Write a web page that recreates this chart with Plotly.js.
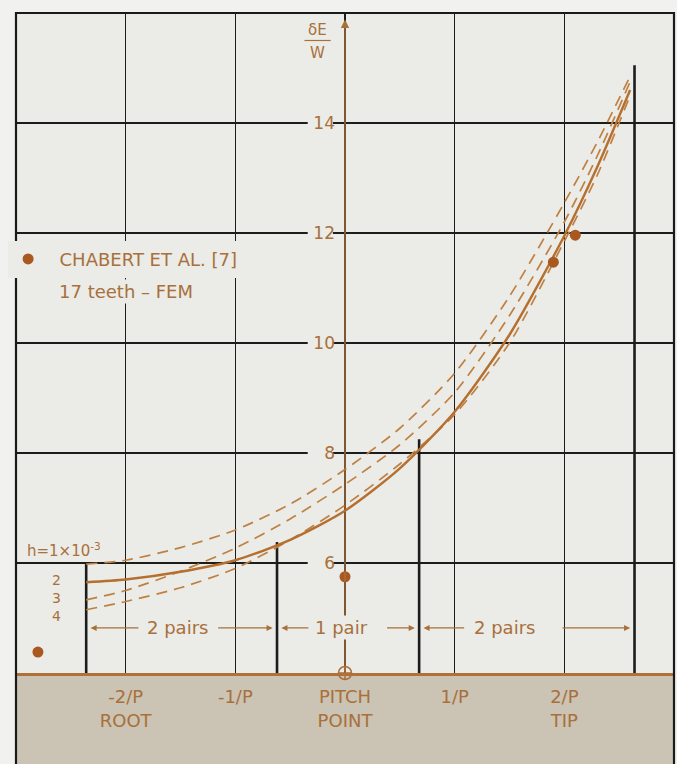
<!DOCTYPE html>
<html><head><meta charset="utf-8">
<script src="https://cdn.plot.ly/plotly-3.0.1.min.js"></script>
<style>html,body{margin:0;padding:0;background:#f1f1ef}</style>
</head><body><div id="chart" style="width:677px;height:764px"></div>
<script>
// ---- data ----
const curveX = [-2.36, -2, -1.5, -1, -0.5, 0, 0.5, 1, 1.5, 2, 2.3, 2.6];
const curveH1 = [5.98, 6.05, 6.28, 6.6, 7.07, 7.7, 8.45, 9.45, 10.85, 12.55, 13.65, 14.85];
const curveH2 = [5.65, 5.7, 5.84, 6.05, 6.42, 6.95, 7.72, 8.75, 10.15, 11.95, 13.2, 14.6];
const curveH3 = [5.33, 5.5, 5.85, 6.27, 6.8, 7.43, 8.15, 9.1, 10.5, 12.2, 13.4, 14.75];
const curveH4 = [5.15, 5.3, 5.55, 5.9, 6.42, 7.05, 7.8, 8.7, 10.0, 11.85, 13.05, 14.5];
const chabertX = [-2.8, 0, 1.9, 2.1];
const chabertY = [4.38, 5.75, 11.47, 11.96];
const contactX = [-2.36, -0.62, 0.676, 2.64];
const contactTop = [6.0, 6.38, 8.25, 15.05];
const pitchPointX = [0];
const pitchPointY = [4];
const xTickVals = [-2, -1, 0, 1, 2];
const xTickText = ['-2/P<br>ROOT', '-1/P', 'PITCH<br>POINT', '1/P', '2/P<br>TIP'];
const yTickVals = [6, 8, 10, 12, 14];
const curveNames = ['h=1×10<sup>-3</sup>', '2', '3', '4'];
const pairLabels = ['2 pairs', '1 pair', '2 pairs'];

// ---- styles ----
const BROWN = '#a8703a';
const CURVE = '#bf8142';
const DOT = '#a9591f';
const PLOTBG = '#ebebe8';
const FONT = 'DejaVu Sans, sans-serif';

// contact lines (built from arrays)
const cx = [], cy = [];
contactX.forEach((x, i) => { cx.push(x, x, null); cy.push(4, contactTop[i], null); });

const dashStyle = {color: CURVE, width: 1.7, dash: '11px,7px', shape: 'spline', smoothing: 0.7};
const traces = [
  {x: cx, y: cy, mode: 'lines', line: {color: '#1c1c1c', width: 2.6}, showlegend: false, hoverinfo: 'skip'},
  {x: curveX, y: curveH1, mode: 'lines', line: dashStyle, showlegend: false},
  {x: curveX, y: curveH3, mode: 'lines', line: dashStyle, showlegend: false},
  {x: curveX, y: curveH4, mode: 'lines', line: dashStyle, showlegend: false},
  {x: curveX, y: curveH2, mode: 'lines', line: {color: '#b56f2e', width: 2.4, shape: 'spline', smoothing: 0.7}, showlegend: false},
  {x: pitchPointX, y: pitchPointY, mode: 'markers', marker: {symbol: 'circle-cross-open', size: 13, color: BROWN, line: {width: 1.5}}, showlegend: false, cliponaxis: false},
  {x: chabertX, y: chabertY, mode: 'markers', name: '\u00a0\u00a0CHABERT ET AL. [7]', marker: {color: DOT, size: 11}, showlegend: true}
];

const annotations = [];
// y axis arrow
annotations.push({x: 0, y: 15.88, ax: 0, ay: 4, xref: 'x', yref: 'y', axref: 'x', ayref: 'y', text: '', showarrow: true,
  arrowhead: 2, arrowsize: 1.2, arrowwidth: 1.4, arrowcolor: BROWN, standoff: 0});
// y-axis name as fraction
annotations.push({x: -0.25, y: 15.7, xref: 'x', yref: 'y', text: 'δE', showarrow: false, font: {family: FONT, size: 15, color: BROWN}});
annotations.push({x: -0.25, y: 15.28, xref: 'x', yref: 'y', text: 'W', showarrow: false, font: {family: FONT, size: 15, color: BROWN}});
// curve labels
annotations.push({x: -2.92, y: 6.24, xref: 'x', yref: 'y', xanchor: 'left', text: curveNames[0], showarrow: false, font: {family: FONT, size: 15, color: BROWN}});
annotations.push({x: -2.63, y: 5.36, xref: 'x', yref: 'y', text: curveNames.slice(1).join('<br>'), showarrow: false,
  font: {family: FONT, size: 14, color: BROWN}});
// legend second line
annotations.push({x: -2.63, y: 10.93, xref: 'x', yref: 'y', xanchor: 'left', text: '17 teeth – FEM', showarrow: false, bgcolor: PLOTBG,
  font: {family: FONT, size: 18, color: BROWN}});
// pair dimensions
const dimY = 4.82;
const pairLabelX = [-1.53, -0.03, 1.45];
const pairArrows = [[-1.87, contactX[0] + 0.04], [-1.17, contactX[1] - 0.04],
                    [-0.32, contactX[1] + 0.04], [0.37, contactX[2] - 0.04],
                    [1.10, contactX[2] + 0.04], [1.97, contactX[3] - 0.04]];
pairArrows.forEach(a => annotations.push({x: a[1], y: dimY, ax: a[0], ay: dimY, xref: 'x', yref: 'y', axref: 'x', ayref: 'y',
  text: '', showarrow: true, arrowhead: 2, arrowsize: 1.1, arrowwidth: 1.1, arrowcolor: BROWN, standoff: 0}));
pairLabels.forEach((t, i) => annotations.push({x: pairLabelX[i], y: dimY, xref: 'x', yref: 'y', text: t, showarrow: false,
  bgcolor: i === 1 ? PLOTBG : 'rgba(0,0,0,0)', font: {family: FONT, size: 18, color: BROWN}}));

// gaps in grid lines behind y tick labels
const shapes = [];
yTickVals.forEach(v => shapes.push({type: 'rect', layer: 'between', xref: 'x', yref: 'y', x0: -0.34, x1: -0.11, y0: v - 0.15, y1: v + 0.15,
  fillcolor: PLOTBG, line: {width: 0}}));
// bottom band and frame
shapes.push({type: 'rect', layer: 'below', xref: 'paper', yref: 'paper', x0: 0, x1: 1, y0: -0.14, y1: 0, fillcolor: '#cbc3b4', line: {width: 0}});
shapes.push({type: 'path', layer: 'above', xref: 'paper', yref: 'paper', path: 'M0,-0.14 L0,1 L1,1 L1,-0.14', line: {color: '#1a1a1a', width: 2.2}});
// fraction bar
shapes.push({type: 'line', layer: 'above', xref: 'x', yref: 'y', x0: -0.37, x1: -0.13, y0: 15.5, y1: 15.5, line: {color: BROWN, width: 1.2}});

const layout = {
  width: 677, height: 764,
  margin: {l: 16, r: 3, t: 13, b: 91},
  paper_bgcolor: '#f1f1ef', plot_bgcolor: PLOTBG,
  font: {family: FONT, color: BROWN},
  xaxis: {range: [-3, 3], tickvals: xTickVals, ticktext: xTickText, showgrid: true, gridcolor: '#1c1c1c', gridwidth: 1.6,
    zeroline: false, showline: true, linecolor: '#b0703a', linewidth: 2.6, ticks: '', ticklabelstandoff: 6,
    tickfont: {family: FONT, size: 18, color: BROWN}, fixedrange: true},
  yaxis: {range: [4, 16], tickvals: yTickVals, showgrid: true, gridcolor: '#1c1c1c', gridwidth: 1.6, zeroline: false,
    showline: false, ticks: '', anchor: 'free', position: 0.5, ticklabelstandoff: 10,
    tickfont: {family: FONT, size: 17, color: BROWN}, fixedrange: true},
  showlegend: true,
  legend: {x: -0.012, xanchor: 'left', y: 0.655, yanchor: 'top', bgcolor: PLOTBG, font: {family: FONT, size: 18, color: BROWN},
    itemwidth: 30, valign: 'middle'},
  annotations: annotations,
  shapes: shapes
};

Plotly.newPlot('chart', traces, layout, {displayModeBar: false, staticPlot: true});
</script></body></html>
